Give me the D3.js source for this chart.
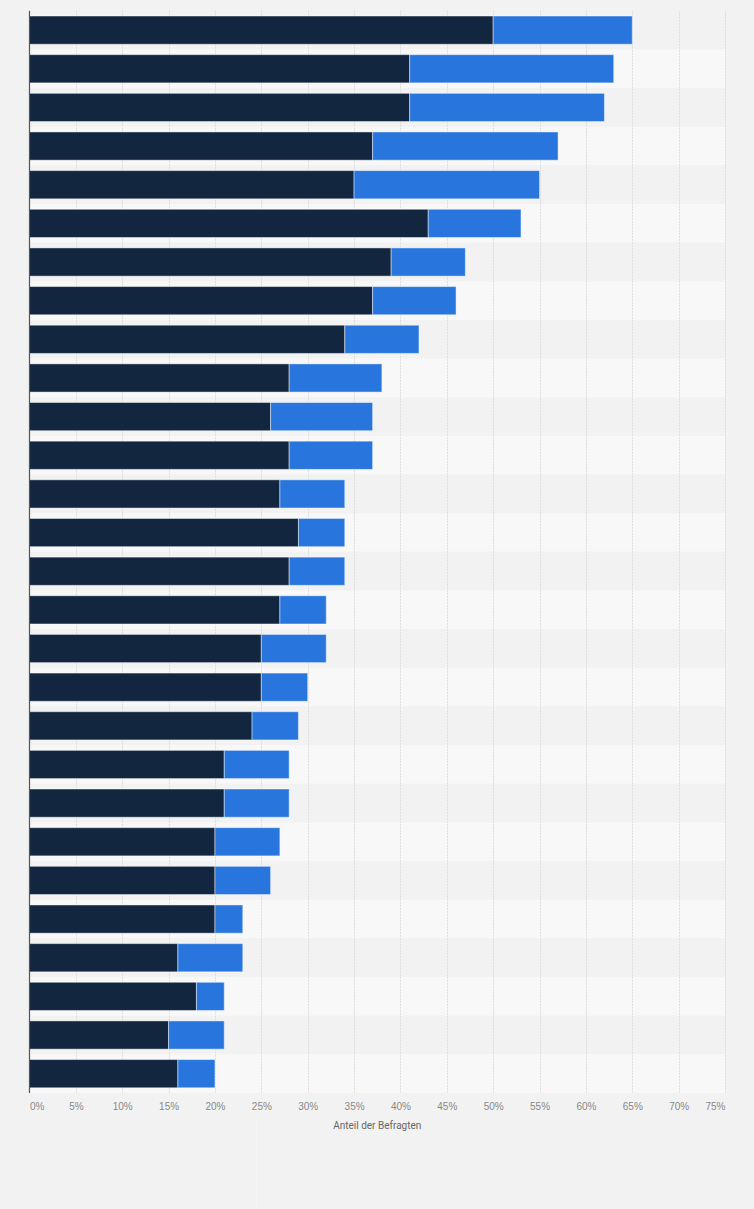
<!DOCTYPE html>
<html>
<head>
<meta charset="utf-8">
<script src="https://cdn.jsdelivr.net/npm/d3@7"></script>
<style>
  html, body { margin: 0; padding: 0; background: #f2f2f2; }
  svg { display: block; font-family: Roboto, "Liberation Sans", Arial, sans-serif; }
</style>
</head>
<body>
<svg id="chart" width="754" height="1209"></svg>
<script>
// Data (category labels are not shown in the reference image)
const categories = ["1","2","3","4","5","6","7","8","9","10","11","12","13","14",
                    "15","16","17","18","19","20","21","22","23","24","25","26","27","28"];
const seriesNames = ["Serie 1", "Serie 2"];
const series1 = [50,41,41,37,35,43,39,37,34,28,26,28,27,29,28,27,25,25,24,21,21,20,20,20,16,18,15,16];
const series2 = [15,22,21,20,20,10,8,9,8,10,11,9,7,5,6,5,7,5,5,7,7,7,6,3,7,3,6,4];
const tickValues = [0,5,10,15,20,25,30,35,40,45,50,55,60,65,70,75];
const axisTitle = "Anteil der Befragten";

const colors = ["#12263f", "#2876dd"];

const svg = d3.select("#chart");
const W = 754, H = 1209;
const plot = { left: 29.5, right: 725, top: 10.8, bottom: 1093 };

svg.append("rect").attr("width", W).attr("height", H).attr("fill", "#f2f2f2");
// faint divider in footer area
svg.append("line").attr("x1", 256.5).attr("x2", 256.5).attr("y1", 1120).attr("y2", H)
   .attr("stroke", "#f6f6f6").attr("stroke-width", 1);

const x = d3.scaleLinear().domain([0, 75]).range([plot.left, plot.right]);
const yRow = d3.scaleBand().domain(categories).range([plot.top, plot.bottom]).padding(0);
const y = d3.scaleBand().domain(categories).range([plot.top, plot.bottom])
            .paddingInner(0.27).paddingOuter(0.135);

// alternating row bands
svg.append("g").selectAll("rect").data(categories).join("rect")
  .attr("x", plot.left).attr("width", plot.right - plot.left)
  .attr("y", d => yRow(d)).attr("height", yRow.bandwidth())
  .attr("fill", (d, i) => i % 2 === 0 ? "#f2f2f2" : "#f8f8f8");

// gridlines
svg.append("g").selectAll("line").data(tickValues.filter(v => v > 0)).join("line")
  .attr("x1", d => Math.round(x(d)) + 0.5).attr("x2", d => Math.round(x(d)) + 0.5)
  .attr("y1", plot.top).attr("y2", plot.bottom)
  .attr("stroke", "#dedede").attr("stroke-width", 1).attr("stroke-dasharray", "2,1");

// stacked bars
const rows = categories.map((c, i) => ({ c, v: [series1[i], series2[i]] }));
const stack = d3.stack().keys([0, 1]).value((d, k) => d.v[k]);
const stacked = stack(rows);

svg.append("g").selectAll("g").data(stacked).join("g")
  .attr("fill", (d, i) => colors[i])
  .selectAll("rect").data(d => d).join("rect")
  .attr("x", d => x(d[0]))
  .attr("width", d => x(d[1]) - x(d[0]))
  .attr("y", d => y(d.data.c))
  .attr("height", y.bandwidth())
  .attr("stroke", "rgba(255,255,255,0.45)").attr("stroke-width", 1);

// y axis line
svg.append("line").attr("x1", plot.left).attr("x2", plot.left)
  .attr("y1", plot.top).attr("y2", plot.bottom)
  .attr("stroke", "#555").attr("stroke-width", 1.2);

// x axis tick labels
const xAxis = d3.axisBottom(x).tickValues(tickValues).tickSize(0).tickPadding(0)
  .tickFormat(d => d + "%");
const ax = svg.append("g").attr("transform", `translate(0,${plot.bottom})`).call(xAxis);
ax.select(".domain").remove();
ax.selectAll("text")
  .attr("y", 17).attr("dy", 0)
  .attr("fill", "#888").attr("font-size", 10)
  .attr("text-anchor", (d, i) => i === 0 ? "start" : (i === tickValues.length - 1 ? "end" : "middle"));

// axis title
svg.append("text").attr("x", (plot.left + plot.right) / 2).attr("y", 1129)
  .attr("text-anchor", "middle").attr("fill", "#666").attr("font-size", 10)
  .text(axisTitle);
</script>
</body>
</html>
